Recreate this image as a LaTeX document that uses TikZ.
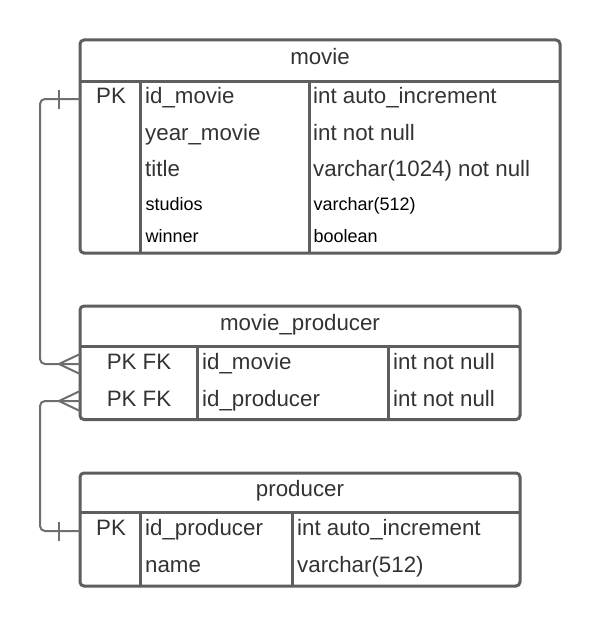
\documentclass[tikz,border=0pt]{standalone}
\usepackage{fontspec}
\setmainfont{Liberation Sans}
\usetikzlibrary{calc}
\definecolor{bordc}{HTML}{5E5E5E}
\definecolor{linec}{HTML}{6E6E6E}
\definecolor{txtc}{HTML}{333333}
\begin{document}
\begin{tikzpicture}[x=1pt,y=-1pt,
  tbl/.style={draw=bordc, line width=3pt, rounded corners=4pt, inner sep=0pt},
  sep/.style={draw=bordc, line width=3pt},
  big/.style={font=\fontsize{22.3}{26}\selectfont, text=txtc, inner sep=0pt, anchor=base west},
  bigc/.style={font=\fontsize{22.3}{26}\selectfont, text=txtc, inner sep=0pt, anchor=base},
  small/.style={font=\fontsize{18}{22}\selectfont, text=black, inner sep=0pt, anchor=base west},
  conn/.style={draw=linec, line width=2pt, rounded corners=5pt},
  endmark/.style={draw=linec, line width=2pt}
]
\useasboundingbox (0,0) rectangle (602,626);
% ---------- movie ----------
\node[tbl, minimum width=480pt, minimum height=213pt] (movie) at (320,146.5) {};
\draw[sep] (80,81) -- (560,81);
\draw[sep] (140,81) -- (140,253);
\draw[sep] (309,81) -- (309,253);
\node[bigc] (movieh) at (320,65) {movie};
\node[bigc] (mpk) at (111,103.5) {PK};
\node[big] (m1a) at (145,103.5) {id\_movie};
\node[big] (m1b) at (313,103.5) {int auto\_increment};
\node[big] (m2a) at (145,140) {year\_movie};
\node[big] (m2b) at (313,140) {int not null};
\node[big] (m3a) at (145,176) {title};
\node[big] (m3b) at (313,176) {varchar(1024) not null};
\node[small] (m4a) at (145.5,210) {studios};
\node[small] (m4b) at (313.5,210) {varchar(512)};
\node[small] (m5a) at (145.5,242) {winner};
\node[small] (m5b) at (313.5,242) {boolean};
% ---------- movie_producer ----------
\node[tbl, minimum width=440pt, minimum height=113.5pt] (mp) at (300,362.75) {};
\draw[sep] (80,346) -- (520,346);
\draw[sep] (197,346) -- (197,419.5);
\draw[sep] (388,346) -- (388,419.5);
\node[bigc] (mph) at (300,330.5) {movie\_producer};
\node[bigc] (mpk1) at (139,369.5) {PK FK};
\node[big] (mp1a) at (202,369.5) {id\_movie};
\node[big] (mp1b) at (393,369.5) {int not null};
\node[bigc] (mpk2) at (139,406) {PK FK};
\node[big] (mp2a) at (202,406) {id\_producer};
\node[big] (mp2b) at (393,406) {int not null};
% ---------- producer ----------
\node[tbl, minimum width=440pt, minimum height=113pt] (prod) at (300,529.5) {};
\draw[sep] (80,512) -- (520,512);
\draw[sep] (140,512) -- (140,586);
\draw[sep] (292,512) -- (292,586);
\node[bigc] (prodh) at (300,496) {producer};
\node[bigc] (ppk) at (111,535) {PK};
\node[big] (p1a) at (145,535) {id\_producer};
\node[big] (p1b) at (297,535) {int auto\_increment};
\node[big] (p2a) at (145,572) {name};
\node[big] (p2b) at (297,572) {varchar(512)};
% ---------- connectors ----------
\coordinate (cm) at (80,99);
\coordinate (cmp1) at (80,364);
\coordinate (cmp2) at (80,401);
\coordinate (cp) at (80,531);
\draw[conn] (cm) -- ++(-40,0) |- (cmp1);
\draw[endmark] ($(cm)+(-21,-9.5)$) -- ($(cm)+(-21,9.5)$);
\draw[endmark] ($(cmp1)+(-21,0)$) -- ($(cmp1)+(0,-10)$);
\draw[endmark] ($(cmp1)+(-21,0)$) -- ($(cmp1)+(0,10)$);
\draw[conn] (cmp2) -- ++(-40,0) |- (cp);
\draw[endmark] ($(cmp2)+(-21,0)$) -- ($(cmp2)+(0,-10)$);
\draw[endmark] ($(cmp2)+(-21,0)$) -- ($(cmp2)+(0,10)$);
\draw[endmark] ($(cp)+(-21,-9.5)$) -- ($(cp)+(-21,9.5)$);
\end{tikzpicture}
\end{document}
